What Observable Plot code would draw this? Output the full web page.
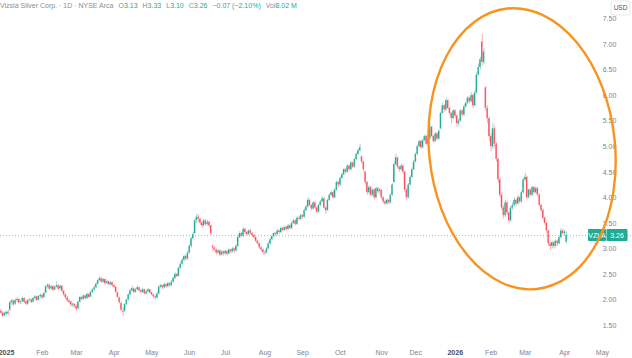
<!DOCTYPE html>
<html><head><meta charset="utf-8">
<script src="https://cdn.jsdelivr.net/npm/d3@7"></script>
<script src="https://cdn.jsdelivr.net/npm/@observablehq/plot@0.6"></script>
<style>
html,body{margin:0;padding:0;background:#fff;overflow:hidden}
#wrap{position:relative;width:632px;height:358px}
#hdr{position:absolute;left:0px;top:2px;font:7px "Liberation Sans",Arial,sans-serif;color:#8a8d97;white-space:nowrap}
#hdr .v{color:#22ab94}
#hdr .g{margin-left:5px}
</style></head><body><div id="wrap"><div id="chart"></div><div id="hdr"></div></div>
<script>
// ---- data: daily candles [open, high, low, close] ----
const dec24 = [[1.78,1.82,1.72,1.74],[1.74,1.77,1.66,1.68],[1.69,1.76,1.67,1.74]];
const jan25 = [[1.72,1.78,1.70,1.76],[1.76,1.80,1.70,1.73],[1.80,1.98,1.78,1.95],[1.95,2.02,1.90,1.98],[1.98,2.00,1.88,1.90],
[1.92,2.02,1.90,1.99],[1.99,2.05,1.95,2.01],[2.01,2.03,1.92,1.94],[1.95,2.00,1.91,1.97],[1.97,2.06,1.95,2.03],
[2.03,2.04,1.93,1.95],[1.96,1.98,1.89,1.92],[1.92,2.01,1.90,1.99],[1.99,2.03,1.96,2.00],[2.00,2.02,1.93,1.95],
[1.96,2.05,1.94,2.03],[2.03,2.09,2.00,2.06],[2.06,2.07,1.97,1.99],[2.00,2.09,1.98,2.07],[2.07,2.12,2.03,2.09]];
const feb25 = [[2.09,2.10,2.01,2.04],[2.05,2.15,2.03,2.13],[2.14,2.28,2.12,2.26],[2.26,2.32,2.22,2.29],[2.29,2.30,2.19,2.21],
[2.22,2.28,2.19,2.26],[2.26,2.28,2.17,2.19],[2.20,2.27,2.18,2.25],[2.25,2.36,2.23,2.28],[2.28,2.30,2.18,2.21],
[2.22,2.29,2.20,2.27],[2.27,2.28,2.15,2.17],[2.17,2.19,2.07,2.10],[2.10,2.13,2.01,2.04],[2.04,2.07,1.95,1.98],
[1.98,2.02,1.92,1.95],[1.96,1.98,1.86,1.90],[1.90,1.94,1.85,1.92],[1.91,1.93,1.84,1.87]];
const mar25 = [[1.87,1.90,1.78,1.82],[1.83,1.98,1.81,1.96],[1.96,2.07,1.94,2.05],[2.05,2.06,1.98,2.01],[2.01,2.10,1.99,2.08],
[2.08,2.09,2.00,2.03],[2.03,2.13,2.01,2.11],[2.11,2.12,2.03,2.05],[2.06,2.17,2.04,2.15],[2.15,2.22,2.12,2.20],
[2.20,2.27,2.17,2.24],[2.24,2.33,2.22,2.31],[2.31,2.40,2.29,2.38],[2.38,2.46,2.35,2.42],[2.42,2.43,2.32,2.35],
[2.35,2.42,2.33,2.40],[2.40,2.41,2.30,2.32],[2.33,2.39,2.30,2.36],[2.36,2.37,2.27,2.30],[2.30,2.37,2.28,2.34],
[2.34,2.35,2.25,2.28]];
const apr25 = [[2.28,2.30,2.22,2.25],[2.25,2.26,2.12,2.15],[2.14,2.16,2.02,2.05],[2.04,2.06,1.92,1.95],[1.93,1.96,1.78,1.80],
[1.78,1.85,1.68,1.76],[1.78,1.93,1.76,1.91],[1.91,2.02,1.88,2.00],[2.00,2.12,1.98,2.10],[2.10,2.21,2.08,2.18],
[2.18,2.27,2.16,2.22],[2.22,2.24,2.12,2.15],[2.15,2.23,2.13,2.20],[2.20,2.28,2.18,2.24],[2.24,2.25,2.15,2.18],
[2.18,2.20,2.12,2.15],[2.15,2.23,2.13,2.20],[2.20,2.21,2.10,2.12],[2.12,2.19,2.10,2.16],[2.16,2.23,2.14,2.20],
[2.20,2.21,2.11,2.14]];
const may25 = [[2.14,2.16,2.07,2.10],[2.10,2.12,2.03,2.06],[2.06,2.08,2.00,2.04],[2.04,2.15,2.02,2.12],[2.12,2.28,2.10,2.25],
[2.25,2.31,2.22,2.28],[2.28,2.29,2.20,2.24],[2.24,2.33,2.22,2.30],[2.30,2.31,2.23,2.26],[2.26,2.35,2.24,2.32],
[2.32,2.33,2.25,2.28],[2.28,2.38,2.26,2.35],[2.35,2.45,2.33,2.42],[2.42,2.53,2.40,2.50],[2.50,2.52,2.43,2.46],
[2.46,2.65,2.45,2.62],[2.62,2.73,2.60,2.70],[2.70,2.81,2.68,2.78],[2.78,2.88,2.75,2.85],[2.85,2.87,2.76,2.80],
[2.80,2.95,2.78,2.92]];
const jun25 = [[2.92,3.08,2.90,3.05],[3.05,3.23,3.02,3.20],[3.20,3.32,3.18,3.28],[3.30,3.58,3.28,3.55],[3.55,3.68,3.50,3.62],
[3.62,3.66,3.52,3.58],[3.58,3.60,3.46,3.50],[3.50,3.53,3.40,3.45],[3.45,3.58,3.43,3.55],[3.55,3.57,3.44,3.48],
[3.48,3.56,3.45,3.52],[3.52,3.54,3.42,3.45],[3.45,3.47,3.26,3.30],[3.05,3.08,2.95,3.02],[3.02,3.04,2.94,2.98],
[2.98,3.00,2.88,2.92],[2.92,2.99,2.90,2.96],[2.96,2.98,2.85,2.88],[2.88,2.97,2.86,2.94],[2.94,2.96,2.86,2.90]];
const jul25 = [[2.90,2.98,2.88,2.95],[2.95,2.96,2.86,2.90],[2.90,3.00,2.88,2.98],[2.98,2.99,2.90,2.94],[2.94,3.03,2.92,3.00],
[3.00,3.01,2.92,2.96],[2.96,3.08,2.94,3.05],[3.05,3.26,3.03,3.22],[3.22,3.34,3.20,3.30],[3.30,3.32,3.22,3.25],
[3.25,3.42,3.23,3.38],[3.38,3.40,3.29,3.32],[3.32,3.34,3.25,3.28],[3.28,3.38,3.26,3.35],[3.35,3.37,3.27,3.30],
[3.30,3.32,3.23,3.26],[3.26,3.28,3.19,3.22],[3.22,3.24,3.12,3.15],[3.15,3.17,3.07,3.10],[3.10,3.12,2.99,3.02],
[3.02,3.05,2.95,2.98],[2.98,3.00,2.88,2.93]];
const aug25 = [[2.93,2.96,2.87,2.92],[2.92,3.03,2.90,3.00],[3.00,3.13,2.98,3.10],[3.10,3.21,3.08,3.18],[3.18,3.27,3.16,3.24],
[3.24,3.33,3.22,3.30],[3.30,3.32,3.24,3.28],[3.28,3.38,3.26,3.35],[3.35,3.37,3.28,3.32],[3.32,3.43,3.30,3.40],
[3.40,3.42,3.33,3.36],[3.36,3.45,3.34,3.42],[3.42,3.44,3.35,3.38],[3.38,3.48,3.36,3.45],[3.45,3.47,3.37,3.40],
[3.40,3.53,3.38,3.50],[3.50,3.58,3.48,3.55],[3.55,3.57,3.45,3.48],[3.48,3.63,3.46,3.60],[3.60,3.62,3.54,3.58],
[3.58,3.68,3.56,3.65]];
const sep25 = [[3.65,3.67,3.58,3.62],[3.62,3.78,3.60,3.75],[3.75,3.85,3.73,3.82],[3.82,4.00,3.80,3.95],[3.95,3.97,3.82,3.85],
[3.85,3.87,3.74,3.78],[3.78,3.93,3.76,3.90],[3.90,3.92,3.77,3.80],[3.80,3.82,3.68,3.72],[3.72,3.88,3.70,3.85],
[3.85,3.95,3.83,3.92],[3.92,4.02,3.90,3.98],[3.98,4.00,3.78,3.80],[3.80,3.82,3.68,3.75],[3.75,3.98,3.73,3.95],
[3.95,4.08,3.93,4.05],[4.05,4.13,4.02,4.10],[4.10,4.12,3.97,4.00],[4.00,4.18,3.98,4.15],[4.15,4.33,4.13,4.30],
[4.30,4.32,4.20,4.25]];
const oct25 = [[4.25,4.41,4.23,4.38],[4.38,4.48,4.36,4.45],[4.45,4.58,4.43,4.55],[4.55,4.57,4.46,4.50],[4.50,4.65,4.48,4.62],
[4.62,4.64,4.52,4.55],[4.55,4.71,4.53,4.68],[4.68,4.70,4.57,4.60],[4.60,4.78,4.58,4.75],[4.75,4.88,4.73,4.85],
[4.85,4.95,4.82,4.92],[4.92,5.05,4.90,4.98],[4.80,4.82,4.66,4.70],[4.70,4.72,4.50,4.55],[4.50,4.52,4.25,4.30],
[4.30,4.32,4.05,4.10],[4.10,4.24,4.08,4.20],[4.20,4.22,4.02,4.05],[4.05,4.18,4.03,4.15],[4.15,4.17,3.96,4.00],
[4.00,4.21,3.98,4.18],[4.18,4.20,4.08,4.12],[4.12,4.18,4.05,4.15]];
const nov25 = [[4.15,4.16,3.96,4.00],[4.00,4.02,3.88,3.92],[3.92,3.95,3.84,3.88],[3.88,3.98,3.86,3.95],[3.95,3.97,3.86,3.90],
[3.90,4.08,3.88,4.05],[4.05,4.28,4.03,4.25],[4.30,4.70,4.28,4.65],[4.65,4.85,4.62,4.78],[4.78,4.80,4.56,4.60],
[4.60,4.62,4.50,4.55],[4.55,4.66,4.53,4.62],[4.62,4.64,4.46,4.50],[4.50,4.52,4.10,4.15],[4.15,4.18,3.95,4.00],
[4.00,4.28,3.98,4.25],[4.25,4.43,4.23,4.40],[4.40,4.58,4.38,4.55],[4.55,4.73,4.53,4.70]];
const dec25 = [[4.70,4.88,4.68,4.85],[4.85,5.03,4.83,5.00],[5.00,5.13,4.98,5.10],[5.10,5.12,4.95,4.98],[4.98,5.15,4.96,5.12],
[5.12,5.23,5.10,5.20],[5.20,5.22,5.02,5.05],[5.05,5.18,5.03,5.15],[5.15,5.45,5.13,5.38],[5.38,5.40,5.17,5.20],
[5.20,5.22,5.07,5.10],[5.10,5.28,5.08,5.25],[5.25,5.27,5.12,5.15],[5.15,5.33,5.13,5.30],[5.35,5.68,5.33,5.65],
[5.65,5.85,5.63,5.80],[5.80,5.82,5.68,5.72],[5.72,5.95,5.70,5.90],[5.90,5.92,5.72,5.75],[5.75,5.77,5.60,5.65],
[5.65,5.67,5.45,5.55],[5.55,5.73,5.53,5.70]];
const jan26 = [[5.70,5.72,5.56,5.60],[5.60,5.62,5.38,5.45],[5.45,5.55,5.40,5.50],[5.50,5.73,5.48,5.70],[5.70,5.72,5.58,5.62],
[5.62,5.82,5.60,5.78],[5.78,5.88,5.75,5.85],[5.85,5.98,5.83,5.95],[5.95,5.97,5.84,5.88],[5.88,6.05,5.86,6.00],
[6.00,6.02,5.75,5.80],[5.80,6.10,5.78,6.05],[6.05,6.45,6.03,6.40],[6.40,6.62,6.38,6.55],[6.55,6.75,6.50,6.70],
[7.05,7.20,6.58,6.65],[6.65,6.92,6.60,6.85],[6.15,6.18,5.70,5.75],[5.75,5.80,5.45,5.55],[5.55,5.58,5.10,5.20]];
const feb26 = [[5.20,5.25,4.90,5.00],[5.00,5.45,4.95,5.35],[5.35,5.40,4.98,5.05],[5.05,5.08,4.70,4.75],[4.75,4.78,4.28,4.35],
[4.35,4.40,4.00,4.05],[4.05,4.10,3.75,3.80],[3.80,3.85,3.58,3.65],[3.65,3.95,3.62,3.90],[3.90,3.92,3.65,3.70],
[3.70,3.72,3.50,3.55],[3.55,3.83,3.53,3.80],[3.80,3.90,3.75,3.85],[3.85,4.00,3.82,3.95],[3.95,3.97,3.84,3.88],
[3.88,4.05,3.86,4.00],[4.00,4.02,3.88,3.92],[3.92,4.13,3.90,4.10],[4.10,4.38,4.08,4.35]];
const mar26 = [[4.35,4.48,4.32,4.40],[4.40,4.42,3.96,4.00],[4.00,4.18,3.98,4.15],[4.15,4.17,4.02,4.05],[4.05,4.23,4.03,4.20],
[4.20,4.22,4.06,4.10],[4.10,4.22,4.08,4.18],[4.18,4.20,4.02,4.05],[4.05,4.07,3.82,3.85],[3.85,3.88,3.72,3.75],
[3.75,3.78,3.56,3.60],[3.60,3.63,3.46,3.50],[3.50,3.52,3.30,3.35],[3.35,3.37,3.05,3.10],[3.10,3.12,2.97,3.05],
[3.05,3.15,3.00,3.12],[3.12,3.14,3.00,3.05],[3.05,3.18,3.02,3.15],[3.15,3.17,3.05,3.10],[3.10,3.25,3.08,3.22],
[3.22,3.40,3.20,3.35],[3.35,3.38,3.26,3.30]];
const apr26 = [[3.30,3.36,3.26,3.33],[3.13,3.33,3.10,3.26]];

// trading days per month (Jan 2025 .. Apr 2026) and time-axis labels
const monthDays = [20,19,21,21,21,20,22,21,21,23,19,22,20,19,22,21];
const monthLabels = ["2025","Feb","Mar","Apr","May","Jun","Jul","Aug","Sep","Oct","Nov","Dec","2026","Feb","Mar","Apr","May"];
const yTickValues = [1.5,2,2.5,3,3.5,4,4.5,5,5.5,6,6.5,7,7.5];
const ticker = "VZLA";
const title = "Vizsla Silver Corp. · 1D · NYSE Arca";
const volume = "8.02 M";

// ---- build ----
const months = [jan25,feb25,mar25,apr25,may25,jun25,jul25,aug25,sep25,oct25,nov25,dec25,jan26,feb26,mar26,apr26];
const candles = [];
dec24.forEach((d,k)=>candles.push({i:k-dec24.length,o:d[0],h:d[1],l:d[2],c:d[3]}));
let start = 0;
const xTicks = [];
months.forEach((m,mi)=>{
  xTicks.push({i:start,label:monthLabels[mi]});
  m.forEach((d,k)=>candles.push({i:start+k,o:d[0],h:d[1],l:d[2],c:d[3]}));
  start += monthDays[mi];
});
xTicks.push({i:start,label:monthLabels[monthLabels.length-1]});
const isYear = d=>/^\d{4}$/.test(d.label);

const up = "#22ab94", down = "#f7525f";
const col = d=> d.c>=d.o ? up : down;
const last = candles[candles.length-1], prev = candles[candles.length-2];

const W=632,H=358;
const plot = Plot.plot({
  width:W, height:H, marginLeft:0, marginRight:0, marginTop:0, marginBottom:22,
  style:{background:"#fff", fontFamily:"'Liberation Sans',Arial,sans-serif"},
  x:{type:"linear", domain:[-3.34,348.75], axis:null},
  y:{type:"linear", domain:[1.286,7.861], axis:null},
  marks:[
    Plot.ruleY([last.c],{stroke:up,strokeOpacity:0.75,strokeWidth:0.8,strokeDasharray:"1,2"}),
    Plot.ruleX(candles,{x:"i",y1:"l",y2:"h",stroke:col,strokeWidth:0.7,strokeOpacity:0.7}),
    Plot.rect(candles,{x1:d=>d.i-0.36,x2:d=>d.i+0.36,y1:"o",y2:"c",fill:col,inset:0}),
    Plot.text(yTickValues,{y:d=>d,text:d=>d.toFixed(2),frameAnchor:"right",textAnchor:"middle",dx:-23,fill:"#80838d",fontSize:7}),
    Plot.text(xTicks.filter(d=>!isYear(d)),{x:"i",text:"label",frameAnchor:"bottom",dy:16,lineAnchor:"middle",fill:"#80838d",fontSize:7}),
    Plot.text(xTicks.filter(isYear),{x:"i",text:"label",frameAnchor:"bottom",dy:16,lineAnchor:"middle",fill:"#4a4d57",fontWeight:"bold",fontSize:7})
  ]
});
document.getElementById("chart").appendChild(plot);

// ---- overlays drawn with the plot's own scales ----
const sx = plot.scale("x"), sy = plot.scale("y");
const svg = d3.select(plot);
const py = sy.apply(last.c);
// last price label
const g = svg.append("g").attr("font-size",7).attr("font-family","'Liberation Sans',Arial,sans-serif");
g.append("rect").attr("x",W-44).attr("y",py-6).attr("width",18).attr("height",12).attr("rx",1).attr("fill",up);
g.append("rect").attr("x",W-25.5).attr("y",py-6).attr("width",21).attr("height",12).attr("rx",1).attr("fill",up);
g.append("text").attr("x",W-35).attr("y",py).attr("dy","0.35em").attr("text-anchor","middle").attr("fill","#fff").text(ticker);
g.append("text").attr("x",W-15).attr("y",py).attr("dy","0.35em").attr("text-anchor","middle").attr("fill","#fff").text(last.c.toFixed(2));
// currency box
const u = svg.append("g").attr("font-size",6.5).attr("font-family","'Liberation Sans',Arial,sans-serif");
u.append("rect").attr("x",W-21).attr("y",1).attr("width",19).attr("height",14).attr("rx",2).attr("fill","#fff").attr("stroke","#e0e3eb").attr("stroke-width",0.8);
u.append("text").attr("x",W-11.5).attr("y",8).attr("dy","0.35em").attr("text-anchor","middle").attr("fill","#50535e").text("USD");
// highlight ellipse around the late-2025/2026 spike and sell-off
const cx = sx.apply(287.5), cy = sy.apply(4.95);
svg.append("ellipse").attr("cx",0).attr("cy",0).attr("rx",93).attr("ry",141)
  .attr("transform",`translate(${cx},${cy}) rotate(-6)`)
  .attr("fill","none").attr("stroke","#f7941d").attr("stroke-width",2.4);

// ---- header legend ----
const ch = last.c - prev.c, pct = ch/prev.c*100;
const f = v=>v.toFixed(2);
const sign = v=> (v<0?"−":"+")+Math.abs(v).toFixed(2);
document.getElementById("hdr").innerHTML =
  `${title}<span class="g">O<span class="v">${f(last.o)}</span></span>`+
  `<span class="g">H<span class="v">${f(last.h)}</span></span>`+
  `<span class="g">L<span class="v">${f(last.l)}</span></span>`+
  `<span class="g">C<span class="v">${f(last.c)}</span></span>`+
  `<span class="g v">${sign(ch)} (${sign(pct)}%)</span>`+
  `<span class="g">Vol<span class="v">${volume}</span></span>`;
</script>
</body></html>
